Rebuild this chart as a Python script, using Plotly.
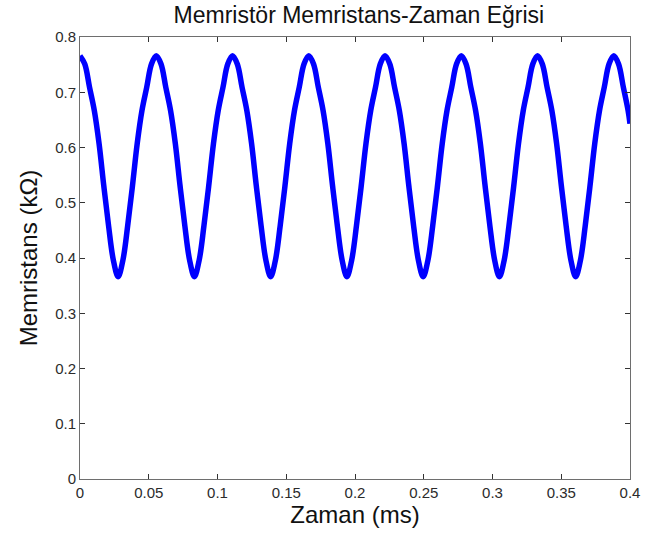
import plotly.graph_objects as go

# Time samples (ms)
zaman_ms = [
    0, 0.00347, 0.00693, 0.0104, 0.01387, 0.01733, 0.0208, 0.02426,
    0.02773, 0.0312, 0.03466, 0.03813, 0.0416, 0.04506, 0.04853, 0.05199,
    0.05546, 0.05893, 0.06239, 0.06586, 0.06933, 0.07279, 0.07626, 0.07972,
    0.08319, 0.08666, 0.09012, 0.09359, 0.09706, 0.10052, 0.10399, 0.10746,
    0.11092, 0.11439, 0.11785, 0.12132, 0.12479, 0.12825, 0.13172, 0.13519,
    0.13865, 0.14212, 0.14558, 0.14905, 0.15252, 0.15598, 0.15945, 0.16292,
    0.16638, 0.16985, 0.17332, 0.17678, 0.18025, 0.18371, 0.18718, 0.19065,
    0.19411, 0.19758, 0.20105, 0.20451, 0.20798, 0.21144, 0.21491, 0.21838,
    0.22184, 0.22531, 0.22878, 0.23224, 0.23571, 0.23917, 0.24264, 0.24611,
    0.24957, 0.25304, 0.25651, 0.25997, 0.26344, 0.26691, 0.27037, 0.27384,
    0.2773, 0.28077, 0.28424, 0.2877, 0.29117, 0.29464, 0.2981, 0.30157,
    0.30503, 0.3085, 0.31197, 0.31543, 0.3189, 0.32237, 0.32583, 0.3293,
    0.33276, 0.33623, 0.3397, 0.34316, 0.34663, 0.3501, 0.35356, 0.35703,
    0.36049, 0.36396, 0.36743, 0.37089, 0.37436, 0.37783, 0.38129, 0.38476,
    0.38822, 0.39169, 0.39516, 0.39862, 0.4,
]

# Memristance (kOhm)
memristans_kohm = [
    0.766, 0.751, 0.709, 0.667, 0.607, 0.530, 0.458, 0.396,
    0.366, 0.396, 0.458, 0.530, 0.607, 0.667, 0.709, 0.751,
    0.766, 0.751, 0.709, 0.667, 0.607, 0.530, 0.458, 0.396,
    0.366, 0.396, 0.458, 0.530, 0.607, 0.667, 0.709, 0.751,
    0.766, 0.751, 0.709, 0.667, 0.607, 0.530, 0.458, 0.396,
    0.366, 0.396, 0.458, 0.530, 0.607, 0.667, 0.709, 0.751,
    0.766, 0.751, 0.709, 0.667, 0.607, 0.530, 0.458, 0.396,
    0.366, 0.396, 0.458, 0.530, 0.607, 0.667, 0.709, 0.751,
    0.766, 0.751, 0.709, 0.667, 0.607, 0.530, 0.458, 0.396,
    0.366, 0.396, 0.458, 0.530, 0.607, 0.667, 0.709, 0.751,
    0.766, 0.751, 0.709, 0.667, 0.607, 0.530, 0.458, 0.396,
    0.366, 0.396, 0.458, 0.530, 0.607, 0.667, 0.709, 0.751,
    0.766, 0.751, 0.709, 0.667, 0.607, 0.530, 0.458, 0.396,
    0.366, 0.396, 0.458, 0.530, 0.607, 0.667, 0.709, 0.751,
    0.766, 0.751, 0.709, 0.667, 0.643,
]

x_ticks = [0, 0.05, 0.1, 0.15, 0.2, 0.25, 0.3, 0.35, 0.4]
x_tick_labels = ["0", "0.05", "0.1", "0.15", "0.2", "0.25", "0.3", "0.35", "0.4"]
y_ticks = [0, 0.1, 0.2, 0.3, 0.4, 0.5, 0.6, 0.7, 0.8]
y_tick_labels = ["0", "0.1", "0.2", "0.3", "0.4", "0.5", "0.6", "0.7", "0.8"]

FONT = "Liberation Sans, Arial, sans-serif"

fig = go.Figure()
fig.add_trace(go.Scatter(
    x=zaman_ms, y=memristans_kohm, mode="lines",
    line=dict(color="#0000ff", width=5.5, shape="spline", smoothing=1.0),
    showlegend=False,
))

axis_common = dict(
    showgrid=False, zeroline=False, showline=True, linecolor="#6e6e6e",
    linewidth=1, mirror="ticks", ticks="inside", ticklen=5, tickcolor="#333333",
    tickfont=dict(family=FONT, size=15, color="#2b2b2b"),
    ticklabeloverflow="allow",
)

fig.update_layout(
    width=649, height=537,
    margin=dict(l=80, r=9, t=37, b=58),
    paper_bgcolor="white", plot_bgcolor="white",
    title=dict(text="Memristör Memristans-Zaman Eğrisi", x=0.553, xanchor="center",
               y=0.988, yanchor="top",
               font=dict(family=FONT, size=23, color="#111111")),
    xaxis=dict(range=[0, 0.4], tickvals=x_ticks, ticktext=x_tick_labels,
               title=dict(text="Zaman (ms)", font=dict(family=FONT, size=24, color="#111111"),
                          standoff=1),
               **axis_common),
    yaxis=dict(range=[0, 0.8], tickvals=y_ticks, ticktext=y_tick_labels,
               title=dict(text="Memristans (kΩ)", font=dict(family=FONT, size=24, color="#111111"),
                          standoff=10),
               **axis_common),
)

fig.write_html("out.html")
